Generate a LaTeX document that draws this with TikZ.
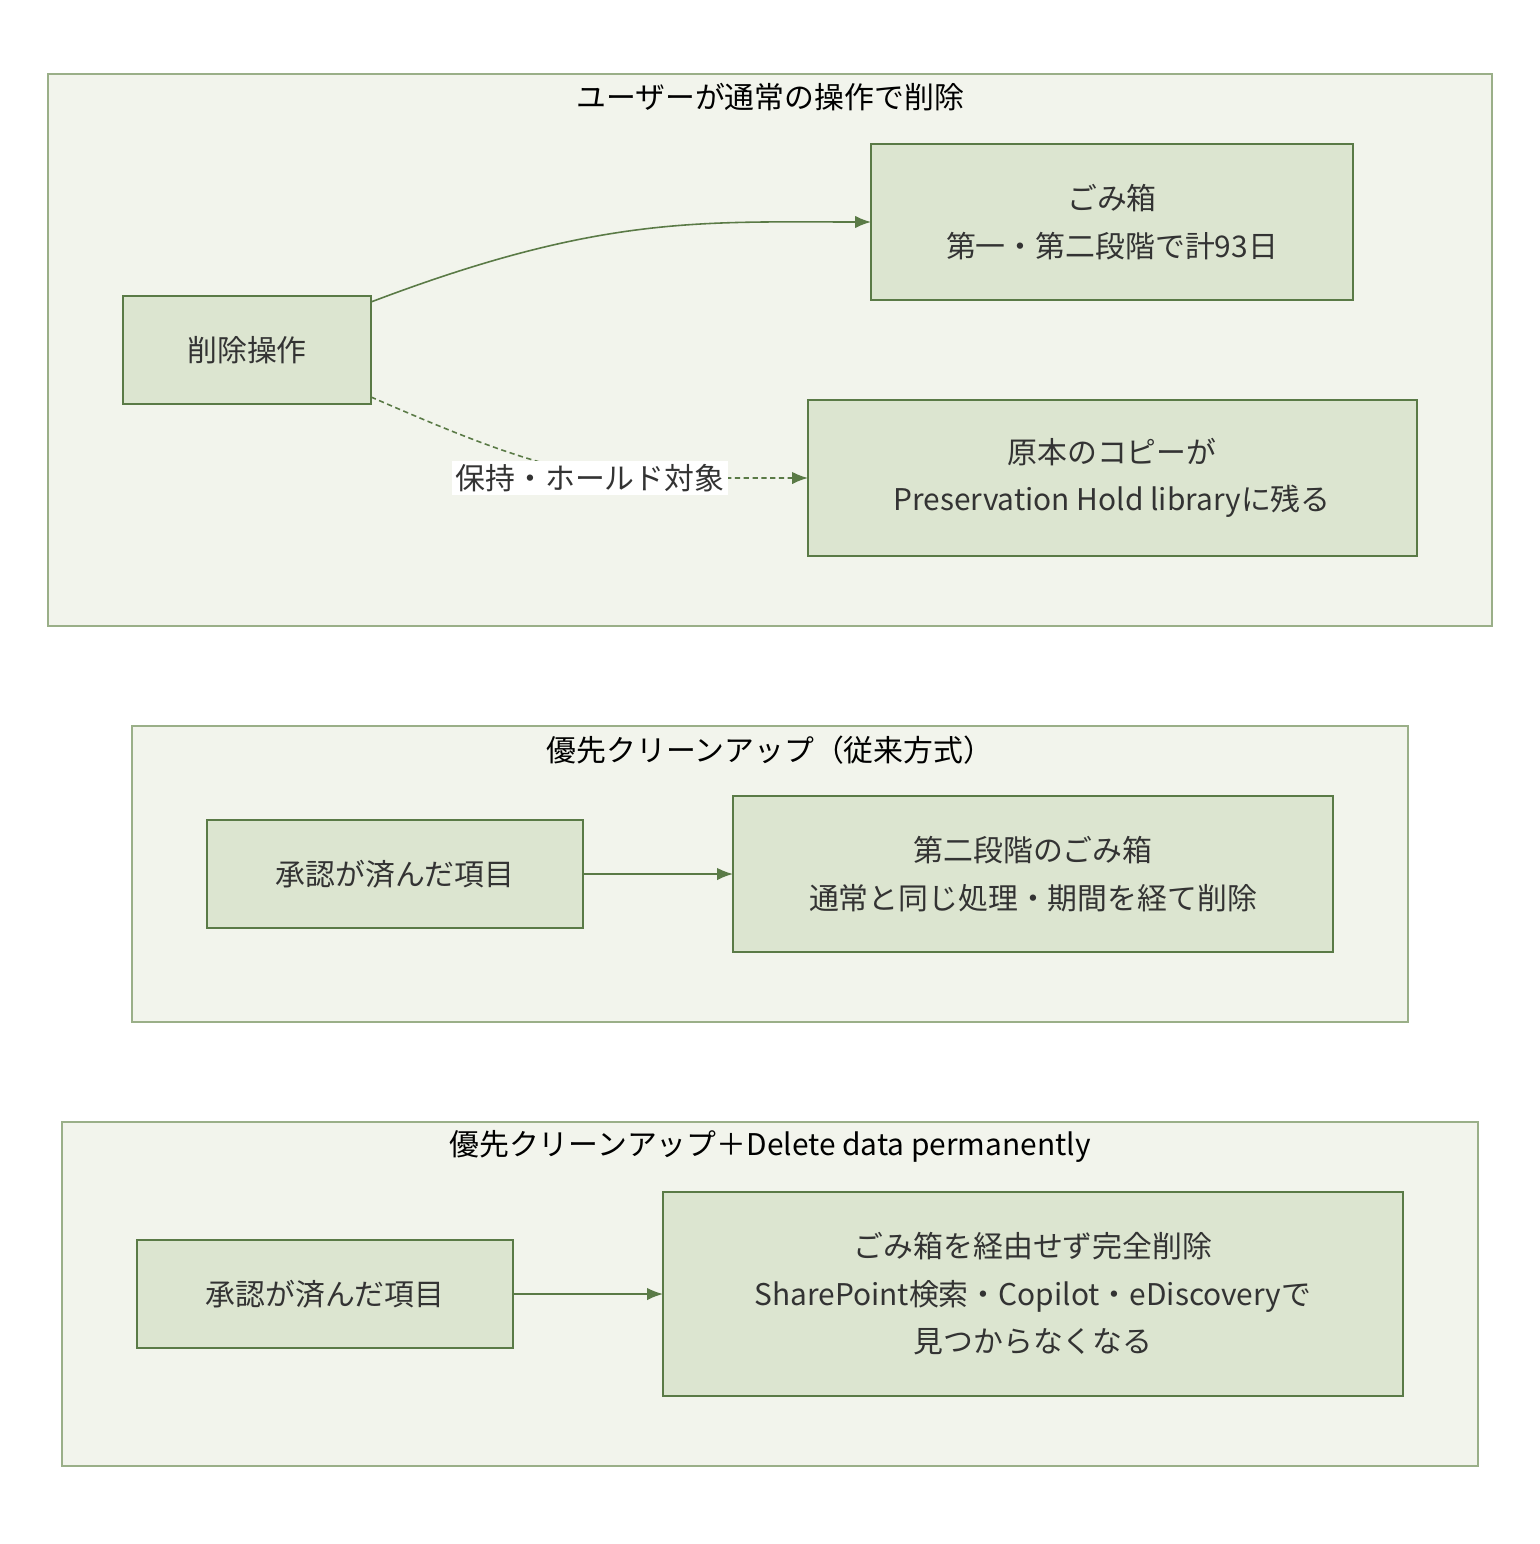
\documentclass[tikz,border=0pt]{standalone}
\usepackage{fontspec}
\setmainfont{Noto Sans CJK JP}
\usetikzlibrary{arrows.meta}
\definecolor{grpfill}{HTML}{F2F4EC}
\definecolor{grpline}{HTML}{9AAF88}
\definecolor{boxfill}{HTML}{DCE5D0}
\definecolor{boxline}{HTML}{5A7A46}
\definecolor{txt}{HTML}{333333}
\tikzset{
  grp/.style={draw=grpline, fill=grpfill, line width=0.8pt},
  box/.style={draw=boxline, fill=boxfill, line width=0.8pt, text=txt, align=center,
    font=\fontsize{17}{27}\selectfont},
  ttl/.style={font=\fontsize{17}{22}\selectfont, text=black},
  arr/.style={-{Latex[length=9pt,width=7pt]}, draw=boxline, line width=0.9pt},
}
\begin{document}
\begin{tikzpicture}[x=0.02cm,y=-0.02cm]
	\useasboundingbox (0,0) rectangle (1540,1544);
	% group 1
	\draw[grp] (48,74) rectangle (1492,626);
	\node[ttl](T1) at (770,97){ユーザーが通常の操作で削除};
	\draw[box] (123,296) rectangle (371,404);
	\node[box,draw=none,fill=none](del) at (247,350){削除操作};
	\coordinate (delA) at (371,302);
	\coordinate (delB) at (371,397);
	\draw[box] (871,144) rectangle (1353,300);
	\node[box,draw=none,fill=none](trash) at (1112,222){ごみ箱\\第一・第二段階で計93日};
	\coordinate (trashW) at (871,222);
	\draw[box] (808,400) rectangle (1417,556);
	\node[box,draw=none,fill=none](hold) at (1112,478){原本のコピーが\\Preservation Hold libraryに残る};
	\coordinate (holdW) at (808,478);
	\draw[arr] (delA) .. controls (600,215) and (700,222) .. (trashW);
	\draw[arr, dashed, dash pattern=on 3pt off 2pt] (delB) .. controls (470,440) and (560,478) .. (640,478) -- (holdW);
	\node[fill=white, text=txt, font=\fontsize{17}{22}\selectfont, inner sep=2pt](lbl) at (590,478){保持・ホールド対象};
	% group 2
	\draw[grp] (132,726) rectangle (1408,1022);
	\node[ttl](T2) at (770,750){優先クリーンアップ（従来方式）};
	\draw[box] (207,820) rectangle (583,928);
	\node[box,draw=none,fill=none](item2) at (395,874){承認が済んだ項目};
	\draw[box] (733,796) rectangle (1333,952);
	\node[box,draw=none,fill=none](trash2) at (1033,874){第二段階のごみ箱\\通常と同じ処理・期間を経て削除};
	\draw[arr] (583,874) -- (733,874);
	% group 3
	\draw[grp] (62,1122) rectangle (1478,1466);
	\node[ttl](T3) at (770,1146){優先クリーンアップ＋Delete data permanently};
	\draw[box] (137,1240) rectangle (513,1348);
	\node[box,draw=none,fill=none](item3) at (325,1294){承認が済んだ項目};
	\draw[box] (663,1192) rectangle (1403,1396);
	\node[box,draw=none,fill=none](perm) at (1033,1294){ごみ箱を経由せず完全削除\\SharePoint検索・Copilot・eDiscoveryで\\見つからなくなる};
	\draw[arr] (513,1294) -- (663,1294);
\end{tikzpicture}
\end{document}
